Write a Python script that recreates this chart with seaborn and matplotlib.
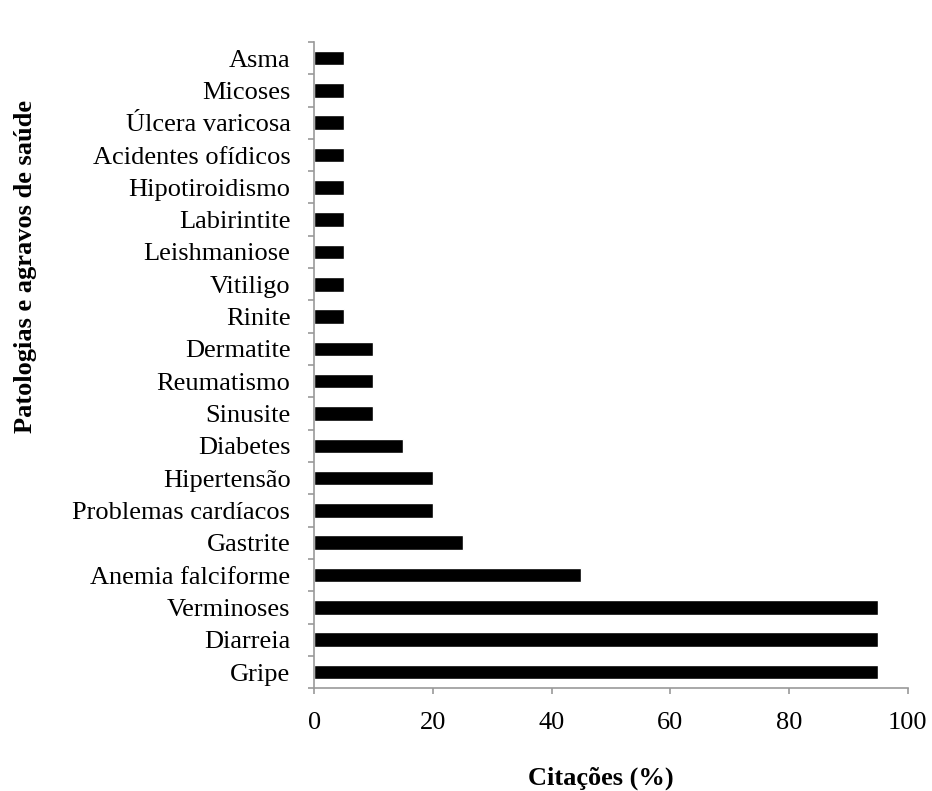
import matplotlib
matplotlib.use("Agg")
import matplotlib.pyplot as plt
import seaborn as sns
import pandas as pd
import numpy as np
from matplotlib.ticker import FixedLocator

categorias = ["Gripe", "Diarreia", "Verminoses", "Anemia falciforme", "Gastrite",
              "Problemas cardíacos", "Hipertensão", "Diabetes", "Sinusite",
              "Reumatismo", "Dermatite", "Rinite", "Vitiligo", "Leishmaniose",
              "Labirintite", "Hipotiroidismo", "Acidentes ofídicos",
              "Úlcera varicosa", "Micoses", "Asma"]
citacoes = [95, 95, 95, 45, 25, 20, 20, 15, 10, 10, 10, 5, 5, 5, 5, 5, 5, 5, 5, 5]
x_ticks = [0, 20, 40, 60, 80, 100]

sns.set_theme(style="white")
plt.rcParams["font.family"] = ["Liberation Serif", "DejaVu Serif"]
plt.rcParams["text.color"] = "black"
plt.rcParams["axes.labelcolor"] = "black"
plt.rcParams["xtick.labelcolor"] = "black"
plt.rcParams["ytick.labelcolor"] = "black"

df = pd.DataFrame({"Patologia": categorias[::-1], "Citações": citacoes[::-1]})

fig = plt.figure(figsize=(9.32, 7.91), dpi=100)
ax = fig.add_axes([0.337, 0.130, 0.637, 0.817])

sns.barplot(data=df, y="Patologia", x="Citações", orient="h", color="black",
            width=0.45, saturation=1, ax=ax)

FS = 19
ax.set_xlim(0, 100)
ax.set_ylim(len(categorias) - 0.5, -0.5)
ax.set_xticks(x_ticks)
ax.set_xticklabels([str(t) for t in x_ticks], fontsize=FS)
ax.tick_params(axis="y", which="major", length=0, labelsize=FS, pad=17, labelcolor="black")
ax.yaxis.set_minor_locator(FixedLocator(np.arange(-0.5, len(categorias), 1.0)))
ax.tick_params(axis="y", which="minor", length=4.5, width=1.2, color="#999999", direction="out", left=True)
ax.tick_params(axis="x", which="major", length=4.5, width=1.2, color="#999999", direction="out",
               bottom=True, labelsize=FS, pad=13, labelcolor="black")
ax.yaxis.set_minor_formatter(plt.NullFormatter())

for s in ["top", "right"]:
    ax.spines[s].set_visible(False)
for s in ["left", "bottom"]:
    ax.spines[s].set_color("#999999")
    ax.spines[s].set_linewidth(1.2)

ax.set_xlabel("Citações (%)", fontsize=FS, fontweight="bold", color="black")
ax.set_ylabel("Patologias e agravos de saúde", fontsize=FS, fontweight="bold", color="black")
ax.xaxis.set_label_coords(0.483, -0.121)
ax.yaxis.set_label_coords(-0.466, 0.653)

fig.savefig("out.png", dpi=100, facecolor="white")
